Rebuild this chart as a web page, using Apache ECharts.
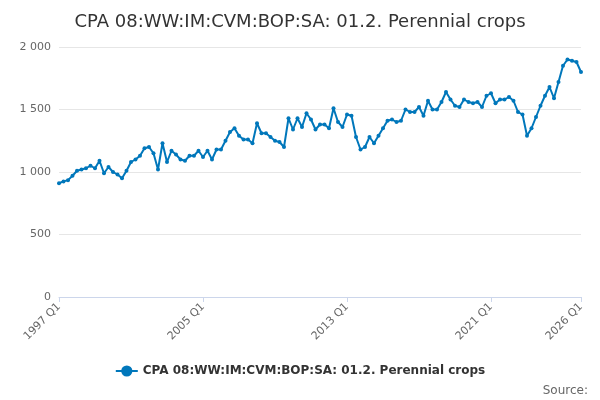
<!DOCTYPE html>
<html>
<head>
<meta charset="utf-8">
<script src="https://cdn.jsdelivr.net/npm/echarts@6/dist/echarts.min.js"></script>
<style>html,body{margin:0;padding:0;background:#fff}#chart{width:600px;height:400px}</style>
</head>
<body>
<div id="chart"></div>
<script>
var seriesName = 'CPA 08:WW:IM:CVM:BOP:SA: 01.2. Perennial crops';
var values = [
  910, 925, 935, 970,
  1010, 1020, 1030, 1050,
  1030, 1090, 990, 1040,
  1000, 980, 950, 1010,
  1080, 1100, 1130, 1190,
  1200, 1150, 1020, 1230,
  1080, 1170, 1140, 1100,
  1090, 1130, 1130, 1170,
  1120, 1170, 1100, 1180,
  1180, 1250, 1320, 1350,
  1290, 1260, 1260, 1230,
  1390, 1310, 1310, 1280,
  1250, 1240, 1200, 1430,
  1340, 1430, 1360, 1470,
  1420, 1340, 1380, 1380,
  1350, 1510, 1400, 1360,
  1460, 1450, 1280, 1180,
  1200, 1280, 1230, 1290,
  1350, 1410, 1420, 1400,
  1410, 1500, 1480, 1480,
  1520, 1450, 1570, 1500,
  1500, 1560, 1640, 1580,
  1530, 1520, 1580, 1560,
  1550, 1560, 1520, 1610,
  1630, 1550, 1580, 1580,
  1600, 1570, 1480, 1460,
  1290, 1350, 1440, 1530,
  1610, 1680, 1590, 1720,
  1850, 1900, 1890, 1880,
  1800
];
var categories = [];
for (var y = 1997; y <= 2026; y++) {
  for (var q = 1; q <= 4; q++) {
    if (categories.length < values.length) categories.push(y + ' Q' + q);
  }
}
var shownLabels = ['1997 Q1', '2005 Q1', '2013 Q1', '2021 Q1', '2026 Q1'];

var chart = echarts.init(document.getElementById('chart'));
var showIdx = function (i, v) { return shownLabels.indexOf(categories[i]) >= 0; };
chart.setOption({
  animation: false,
  title: {
    text: 'CPA 08:WW:IM:CVM:BOP:SA: 01.2. Perennial crops',
    left: 'center', top: 8,
    textStyle: { fontFamily: 'DejaVu Sans', fontSize: 18, fontWeight: 'normal', color: '#333' }
  },
  grid: { left: 59, right: 19, top: 47, bottom: 103 },
  legend: {
    bottom: 18, left: 'center',
    itemWidth: 22,
    textStyle: { fontFamily: 'DejaVu Sans', fontSize: 12, fontWeight: 'bold', color: '#333' },
    data: [seriesName]
  },
  graphic: [{
    type: 'text', right: 12, bottom: 3,
    style: { text: 'Source:', font: '12px DejaVu Sans', fill: '#666' }
  }],
  xAxis: {
    type: 'category', data: categories, boundaryGap: false,
    axisLine: { lineStyle: { color: '#ccd6eb' } },
    axisTick: { interval: showIdx, lineStyle: { color: '#ccd6eb' } },
    axisLabel: { interval: showIdx, rotate: 45, color: '#666', fontFamily: 'DejaVu Sans', fontSize: 11 }
  },
  yAxis: {
    type: 'value', min: 0, max: 2000, interval: 500,
    splitLine: { lineStyle: { color: '#e6e6e6' } },
    axisLabel: {
      color: '#666', fontFamily: 'DejaVu Sans', fontSize: 11,
      formatter: function (v) { return String(v).replace(/\B(?=(\d{3})+(?!\d))/g, ' '); }
    }
  },
  series: [{
    name: seriesName, type: 'line', data: values,
    color: '#0077bb',
    symbol: 'circle', symbolSize: 4, showAllSymbol: true,
    lineStyle: { width: 2 }
  }]
});
</script>
</body>
</html>
